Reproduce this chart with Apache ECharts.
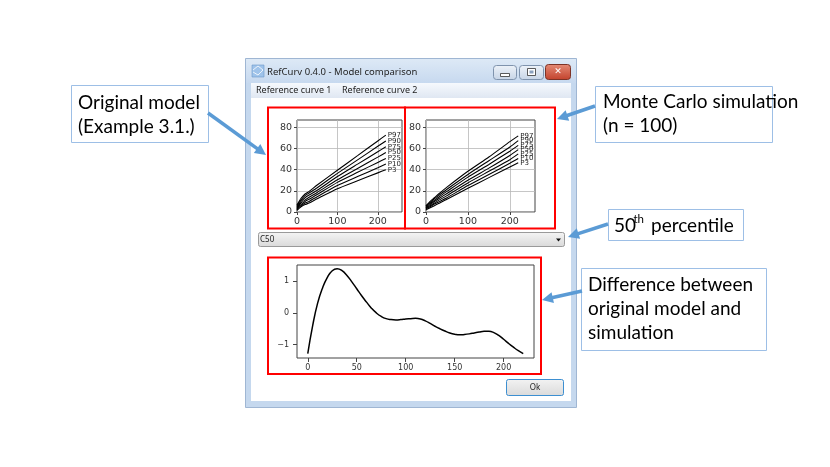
<!DOCTYPE html>
<html>
<head>
<meta charset="utf-8">
<script src="https://cdn.jsdelivr.net/npm/echarts@6/dist/echarts.min.js"></script>
<style>
  html, body { margin: 0; padding: 0; background: #fff; }
  #main { width: 830px; height: 467px; }
</style>
</head>
<body>
<div id="main"></div>
<script>
// ---- data ----
var pctNames = ['P3', 'P10', 'P25', 'P50', 'P75', 'P90', 'P97'];
var curveX = [0, 5, 10, 20, 30, 50, 100, 150, 200, 220];

// original model (left panel)
var origP3  = [1.5, 3.5, 5,   7,    8.5,  12.5, 22,   29.5, 37,   40];
var origP10 = [2,   4.5, 6,   8.5,  10,   14.5, 25,   33.5, 41.9, 45.3];
var origP25 = [3,   5.5, 7,   10,   12,   16.5, 28,   37.5, 46.9, 50.7];
var origP50 = [3.5, 6.5, 8.5, 11.5, 14,   18.5, 30.5, 41.2, 51.9, 56.2];
var origP75 = [4.5, 7.5, 10,  13.5, 16,   20.5, 33.5, 45.3, 57,   61.7];
var origP90 = [5.5, 9,   11.5,15.5, 18,   23,   36.5, 49.3, 62.1, 67.2];
var origP97 = [6.5, 10,  13,  17,   19.5, 25.5, 39.5, 53.3, 67.2, 72.7];

// monte carlo simulation (right panel)
var simP3  = [2,   3,   4,   6,    8,    12,   22.5, 32.5, 42.5, 46.5];
var simP10 = [3,   4,   5,   7.5,  9.5,  13.5, 25,   35.5, 46,   50.5];
var simP25 = [3.5, 5,   6,   8.5,  11,   15.5, 27.5, 38.5, 49.5, 55];
var simP50 = [4,   5.5, 7,   10,   12.5, 17.5, 30,   41.5, 53.5, 59];
var simP75 = [5,   6.5, 8,   11,   14,   19.5, 33,   45,   57.5, 63];
var simP90 = [5.5, 7.5, 9,   12.5, 15.5, 21.5, 35.5, 48.5, 61.5, 67.5];
var simP97 = [6,   8,   10,  13.5, 17,   23.5, 38.5, 52,   66.5, 72];

// difference (bottom panel)
var diffX = [0, 5, 10, 15, 20, 25, 30, 35, 40, 45, 50, 55, 60, 65, 70, 75, 80, 85, 90, 95,
             100, 105, 110, 115, 120, 125, 130, 135, 140, 145, 150, 155, 160, 165, 170, 175,
             180, 185, 190, 195, 200, 205, 210, 215, 220];
var diffY = [-1.28, -0.4, 0.3, 0.78, 1.12, 1.33, 1.39, 1.33, 1.18, 0.98, 0.76, 0.54, 0.34, 0.15,
             0.0, -0.11, -0.18, -0.21, -0.22, -0.21, -0.19, -0.18, -0.17, -0.19, -0.25, -0.33,
             -0.42, -0.5, -0.57, -0.63, -0.67, -0.69, -0.68, -0.66, -0.63, -0.6, -0.58, -0.58,
             -0.62, -0.71, -0.83, -0.96, -1.08, -1.19, -1.28];

var topXTicks = [0, 100, 200];
var topYTicks = [0, 20, 40, 60, 80];
var diffXTicks = [0, 50, 100, 150, 200];
var diffYTicks = [-1, 0, 1];

var origSets = [origP3, origP10, origP25, origP50, origP75, origP90, origP97];
var simSets = [simP3, simP10, simP25, simP50, simP75, simP90, simP97];

function pairs(xs, ys) {
  return xs.map(function (x, i) { return [x, ys[i]]; });
}

var chart = echarts.init(document.getElementById('main'));

var tickFont = 'DejaVu Sans';
var calloutFont = 'Lato';
var blue = '#5b9bd5';

// ---- axes ----
function topX(idx) {
  return {
    type: 'value', gridIndex: idx, min: 0, max: 260, interval: 100,
    axisLine: { show: false, onZero: false },
    axisTick: { show: true, inside: false, length: 3, customValues: topXTicks, lineStyle: { color: '#444' } },
    axisLabel: { customValues: topXTicks, fontSize: 9.5, fontFamily: tickFont, color: '#333', margin: 5 },
    splitLine: { show: true, lineStyle: { color: '#b8b8b8', width: 0.8 } }
  };
}
function topY(idx) {
  return {
    type: 'value', gridIndex: idx, min: 0, max: 87, interval: 20,
    axisLine: { show: false, onZero: false },
    axisTick: { show: true, inside: false, length: 3, customValues: topYTicks, lineStyle: { color: '#444' } },
    axisLabel: { customValues: topYTicks, fontSize: 9.5, fontFamily: tickFont, color: '#333', margin: 5 },
    splitLine: { show: true, lineStyle: { color: '#b8b8b8', width: 0.8 } }
  };
}

// ---- series ----
var series = [];
function addFan(sets, idx) {
  sets.forEach(function (ys, i) {
    series.push({
      name: pctNames[i],
      type: 'line',
      xAxisIndex: idx, yAxisIndex: idx,
      data: pairs(curveX, ys),
      showSymbol: false, symbol: 'none',
      smooth: 0.2,
      lineStyle: { color: '#000', width: 1.1 },
      endLabel: { show: true, formatter: '{a}', fontSize: 7, fontFamily: tickFont, color: '#222', distance: 2 },
      silent: true
    });
  });
}
addFan(origSets, 0);
addFan(simSets, 1);
series.push({
  name: 'C50',
  type: 'line',
  xAxisIndex: 2, yAxisIndex: 2,
  data: pairs(diffX, diffY),
  showSymbol: false, symbol: 'none',
  smooth: true,
  lineStyle: { color: '#000', width: 1.5 },
  silent: true
});

// ---- window chrome / annotations ----
function arrow(x1, y1, x2, y2) {
  var dx = x2 - x1, dy = y2 - y1, L = Math.sqrt(dx * dx + dy * dy);
  var ux = dx / L, uy = dy / L, hl = 11, hw = 5.5;
  var bx = x2 - ux * hl, by = y2 - uy * hl;
  return [
    { type: 'line', z: 20, shape: { x1: x1, y1: y1, x2: bx + ux, y2: by + uy }, style: { stroke: blue, lineWidth: 3.5 } },
    { type: 'polygon', z: 20, shape: { points: [[x2, y2], [bx - uy * hw, by + ux * hw], [bx + uy * hw, by - ux * hw]] }, style: { fill: blue } }
  ];
}
function label(x, y, t, size) {
  return { type: 'text', z: 21, x: x, y: y, style: { text: t, fontSize: size || 19, fontFamily: calloutFont, fill: '#000', align: 'left', verticalAlign: 'middle' } };
}
function callout(x, y, w, h, lines, tx, ty0) {
  var els = [{ type: 'rect', z: 20, shape: { x: x, y: y, width: w, height: h }, style: { fill: '#fff', stroke: '#9dbfe6', lineWidth: 1 } }];
  lines.forEach(function (t, i) {
    els.push(label(tx, ty0 + i * 24, t));
  });
  return els;
}
function grad(c1, c2) {
  return new echarts.graphic.LinearGradient(0, 0, 0, 1, [{ offset: 0, color: c1 }, { offset: 1, color: c2 }]);
}
function redBox(x, y, w, h) {
  return { type: 'rect', z: 15, shape: { x: x, y: y, width: w, height: h }, style: { fill: null, stroke: '#ff0000', lineWidth: 2 } };
}

var els = [];
// frame
els.push({ type: 'rect', z: -10, shape: { x: 245.5, y: 58.5, width: 331, height: 349 }, style: { fill: '#c5d8ee', stroke: '#9fb6d3', lineWidth: 1 } });
els.push({ type: 'rect', z: -9, shape: { x: 246, y: 59, width: 330, height: 24 }, style: { fill: grad('#dde9f6', '#c7d9ef') } });
// icon
els.push({ type: 'rect', z: -8, shape: { x: 252, y: 65, width: 12, height: 12 }, style: { fill: '#9fc3ea', stroke: '#6d98c9', lineWidth: 0.6 } });
els.push({ type: 'polyline', z: -7, shape: { points: [[253, 70], [258, 66], [263, 70], [258, 75], [253, 72]] }, style: { stroke: '#fff', lineWidth: 0.8, fill: null } });
els.push({ type: 'text', z: -7, x: 267, y: 72.5, style: { text: 'RefCurv 0.4.0 - Model comparison', fontSize: 9.5, fontFamily: 'Noto Sans', fill: '#1e1e1e', verticalAlign: 'middle' } });
// title buttons
els.push({ type: 'rect', z: -8, shape: { x: 493.5, y: 65.5, width: 23, height: 14, r: 3 }, style: { fill: grad('#eef3f9', '#c6d4e6'), stroke: '#7f93ad', lineWidth: 1 } });
els.push({ type: 'rect', z: -7, shape: { x: 500.5, y: 73.5, width: 9, height: 3 }, style: { fill: '#fff', stroke: '#333', lineWidth: 0.8 } });
els.push({ type: 'rect', z: -8, shape: { x: 519.5, y: 65.5, width: 24, height: 14, r: 3 }, style: { fill: grad('#eef3f9', '#c6d4e6'), stroke: '#7f93ad', lineWidth: 1 } });
els.push({ type: 'rect', z: -7, shape: { x: 527.5, y: 68.5, width: 8, height: 7 }, style: { fill: '#fff', stroke: '#333', lineWidth: 0.8 } });
els.push({ type: 'rect', z: -7, shape: { x: 529.5, y: 70.5, width: 4, height: 3 }, style: { fill: '#8aa0bd' } });
els.push({ type: 'rect', z: -8, shape: { x: 545.5, y: 64.5, width: 25, height: 15, r: 3 }, style: { fill: grad('#e58c77', '#c2412b'), stroke: '#7c3326', lineWidth: 1 } });
els.push({ type: 'text', z: -7, x: 558, y: 72, style: { text: '✕', fontSize: 9, fontWeight: 'bold', fontFamily: 'DejaVu Sans', fill: '#fff', align: 'center', verticalAlign: 'middle' } });
// menu + client
els.push({ type: 'rect', z: -8, shape: { x: 251, y: 83, width: 320, height: 15 }, style: { fill: grad('#f6f9fd', '#dfe7f2') } });
els.push({ type: 'text', z: -7, x: 256, y: 90.5, style: { text: 'Reference curve 1', fontSize: 9, fontFamily: 'Noto Sans', fill: '#1e1e1e', verticalAlign: 'middle' } });
els.push({ type: 'text', z: -7, x: 342, y: 90.5, style: { text: 'Reference curve 2', fontSize: 9, fontFamily: 'Noto Sans', fill: '#1e1e1e', verticalAlign: 'middle' } });
els.push({ type: 'rect', z: -8, shape: { x: 251, y: 98, width: 320, height: 303 }, style: { fill: '#fff' } });
// combo box
els.push({ type: 'rect', z: -7, shape: { x: 258.5, y: 232.5, width: 306, height: 14, r: 2 }, style: { fill: grad('#f5f5f5', '#d9d9d9'), stroke: '#9a9a9a', lineWidth: 1 } });
els.push({ type: 'text', z: -6, x: 260, y: 240, style: { text: 'C50', fontSize: 8, fontFamily: 'Noto Sans', fill: '#222', verticalAlign: 'middle' } });
els.push({ type: 'polygon', z: -6, shape: { points: [[556, 238.5], [561, 238.5], [558.5, 241.5]] }, style: { fill: '#111' } });
// Ok button
els.push({ type: 'rect', z: -7, shape: { x: 506.5, y: 379.5, width: 57, height: 16, r: 2 }, style: { fill: grad('#f3f3f3', '#dadada'), stroke: '#3d8fd1', lineWidth: 1 } });
els.push({ type: 'text', z: -6, x: 535, y: 387.5, style: { text: 'Ok', fontSize: 8, fontFamily: 'Noto Sans', fill: '#222', align: 'center', verticalAlign: 'middle' } });
// red highlight boxes
els.push(redBox(268, 107.5, 137, 121));
els.push(redBox(405, 107.5, 150, 121));
els.push(redBox(268, 257.5, 273, 116.5));
// callouts
els = els.concat(callout(71.5, 85.5, 137, 57, ['Original model', '(Example 3.1.)'], 78, 103));
els = els.concat(callout(595.5, 86.5, 177, 56, ['Monte Carlo simulation', '(n = 100)'], 603, 102));
els.push({ type: 'rect', z: 20, shape: { x: 608.5, y: 209.5, width: 135, height: 31 }, style: { fill: '#fff', stroke: '#9dbfe6', lineWidth: 1 } });
els.push(label(614, 226, '50'));
els.push(label(633.5, 219.5, 'th', 11.5));
els.push(label(651, 226, 'percentile'));
els = els.concat(callout(581.5, 268.5, 185, 82, ['Difference between', 'original model and', 'simulation'], 588, 285));
// arrows
els = els.concat(arrow(208, 113, 266, 155));
els = els.concat(arrow(595, 106, 557, 119));
els = els.concat(arrow(608, 224, 568, 237));
els = els.concat(arrow(582, 291, 542, 300));

var option = {
  animation: false,
  backgroundColor: '#fff',
  grid: [
    { left: 297, top: 120, width: 105, height: 92, show: true, borderColor: '#444', borderWidth: 1, backgroundColor: 'transparent' },
    { left: 426, top: 120, width: 109, height: 92, show: true, borderColor: '#444', borderWidth: 1, backgroundColor: 'transparent' },
    { left: 297, top: 265, width: 237, height: 93, show: true, borderColor: '#444', borderWidth: 1, backgroundColor: 'transparent' }
  ],
  xAxis: [
    topX(0),
    topX(1),
    {
      type: 'value', gridIndex: 2, min: -11, max: 231,
      axisLine: { show: false, onZero: false },
      axisTick: { show: true, inside: false, length: 4, customValues: diffXTicks, lineStyle: { color: '#444' } },
      axisLabel: { customValues: diffXTicks, fontSize: 8, fontFamily: tickFont, color: '#333', margin: 6 },
      splitLine: { show: false }
    }
  ],
  yAxis: [
    topY(0),
    topY(1),
    {
      type: 'value', gridIndex: 2, min: -1.42, max: 1.51,
      axisLine: { show: false, onZero: false },
      axisTick: { show: true, inside: false, length: 4, customValues: diffYTicks, lineStyle: { color: '#444' } },
      axisLabel: {
        customValues: diffYTicks, fontSize: 8, fontFamily: tickFont, color: '#333', margin: 8,
        formatter: function (v) { return String(v).replace('-', '\u2212'); }
      },
      splitLine: { show: false }
    }
  ],
  series: series,
  graphic: { elements: els }
};

chart.setOption(option);
</script>
</body>
</html>
